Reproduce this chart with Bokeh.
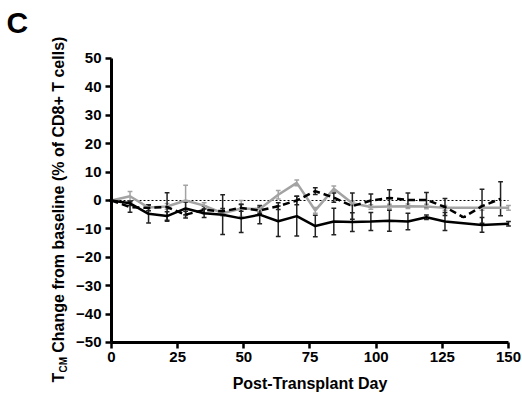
from bokeh.plotting import figure
from bokeh.models import Range1d, FixedTicker, Label, ColumnDataSource
from bokeh.embed import file_html
from bokeh.resources import INLINE
from math import pi

# ---- data ----
days_solid = [0, 7, 14, 21, 28, 35, 42, 49, 56, 63, 70, 77, 84, 91, 98, 105, 112, 119, 126, 140, 150]
solid_vals = [0, -1, -4.7, -5.5, -2.8, -4.5, -5, -6.3, -5, -7.3, -5.5, -9, -7.4, -7.6, -7.4, -7.1, -7.4, -5.9, -7.4, -8.6, -8.2]
solid_err = [0, 0.8, 3.2, 1.5, 2.2, 1.5, 7, 5, 3.2, 5.4, 7, 3.8, 4.7, 3.3, 3.2, 3.7, 2.9, 0.8, 3.2, 2.6, 0.8]

days_gray = [0, 7, 14, 21, 28, 35, 42, 49, 56, 63, 70, 77, 84, 91, 98, 105, 112, 119, 126, 140, 150]
gray_vals = [0, 1.5, -2.5, -2.1, 0, -1.8, -4.5, -2.8, -3, 2.0, 6.2, -3.5, 4.1, -1, -2.3, -2.1, -2, -2.1, -2.6, -2.6, -2.6]
gray_err = [0, 1.7, 1, 1, 5.4, 1, 1, 2.8, 1, 1.5, 1, 1, 1, 0.8, 0.8, 0.8, 0.8, 0.8, 0.8, 0.8, 0.8]

days_dash = [0, 7, 14, 21, 28, 35, 42, 49, 56, 63, 70, 77, 84, 91, 98, 105, 112, 119, 126, 133, 140, 147]
dash_vals = [0, -2.3, -2.6, -2.3, -5, -3.3, -3.8, -2.6, -3.5, -2, 0, 3.3, 1, -2, 0, 0.9, 0.2, 0.2, -2.3, -5.9, -2, 0.6]
dash_err = [0, 1.8, 1, 5, 1.2, 1.3, 1, 1.2, 1, 1.2, 1.5, 1.2, 1.6, 4.6, 2.3, 2.9, 2.4, 2.6, 3, 0, 6, 6]

x_ticks = [0, 25, 50, 75, 100, 125, 150]
y_ticks = [-50, -40, -30, -20, -10, 0, 10, 20, 30, 40, 50]

FONT = "Liberation Sans"
GRAY = "#a3a3a3"
W, H = 522, 397

# frame covers whole canvas; axes are pinned inside it with fixed_location
p = figure(width=W, height=H, x_range=Range1d(-41.94, 155.29), y_range=Range1d(-69.37, 70.42),
           output_backend="svg", toolbar_location=None,
           min_border_left=0, min_border_right=0, min_border_top=0, min_border_bottom=0)
p.title.visible = False
p.outline_line_color = None
p.xgrid.grid_line_color = None
p.ygrid.grid_line_color = None
p.background_fill_color = "white"
p.border_fill_color = "white"

for ax in (p.xaxis[0], p.yaxis[0]):
    ax.axis_line_width = 3
    ax.axis_line_color = "black"
    ax.major_tick_line_width = 2.5
    ax.major_tick_out = 6
    ax.major_tick_in = 0
    ax.minor_tick_line_color = None
    ax.major_label_text_font = FONT
    ax.major_label_text_font_style = "bold"
    ax.major_label_text_font_size = "15px"
    ax.major_label_text_color = "black"
    ax.major_label_standoff = 4

p.xaxis.ticker = FixedTicker(ticks=x_ticks)
p.yaxis.ticker = FixedTicker(ticks=y_ticks)
p.xaxis.fixed_location = -50
p.yaxis.fixed_location = 0
p.xaxis.bounds = (0, 150)
p.yaxis.bounds = (-50, 50)
p.xaxis.axis_label = "Post-Transplant Day"
p.xaxis.axis_label_text_font = FONT
p.xaxis.axis_label_text_font_style = "bold"
p.xaxis.axis_label_text_font_size = "16px"
p.xaxis.axis_label_text_color = "black"
p.xaxis.axis_label_standoff = 9

# zero reference line
p.line([0, 150], [0, 0], line_color="black", line_width=1, line_dash="2 2")


def errorbars(days, vals, errs, color):
    top = [v + e for v, e in zip(vals, errs)]
    bot = [v - e for v, e in zip(vals, errs)]
    src = ColumnDataSource(dict(x=days, top=top, bot=bot,
                                xl=[d - 0.9 for d in days], xr=[d + 0.9 for d in days]))
    p.segment(x0="x", y0="bot", x1="x", y1="top", source=src, line_color=color, line_width=1.5)
    p.segment(x0="xl", y0="top", x1="xr", y1="top", source=src, line_color=color, line_width=1.5)
    p.segment(x0="xl", y0="bot", x1="xr", y1="bot", source=src, line_color=color, line_width=1.5)


errorbars(days_gray, gray_vals, gray_err, GRAY)
errorbars(days_solid, solid_vals, solid_err, "#222222")
errorbars(days_dash, dash_vals, dash_err, "#222222")

p.line(days_gray, gray_vals, line_color=GRAY, line_width=2.5)
p.line(days_solid, solid_vals, line_color="black", line_width=2.5)
p.line(days_dash, dash_vals, line_color="black", line_width=2.5, line_dash="7 4")


def lab(x, y, text, size, angle=pi / 2):
    p.add_layout(Label(x=x, y=y, text=text, angle=angle, text_align="left", text_baseline="middle",
                       text_font=FONT, text_font_style="bold", text_font_size=size,
                       text_color="black"))


# y-axis title with subscript
lab(-20.0, -64.1, "T", "16px")
lab(-18.0, -60.6, "CM", "10px")
lab(-20.0, -53.6, "Change from baseline (% of CD8+ T cells)", "16px")
# panel letter
lab(-39.7, 62.5, "C", "30px", angle=0)

open("out.html", "w").write(file_html(p, INLINE))
